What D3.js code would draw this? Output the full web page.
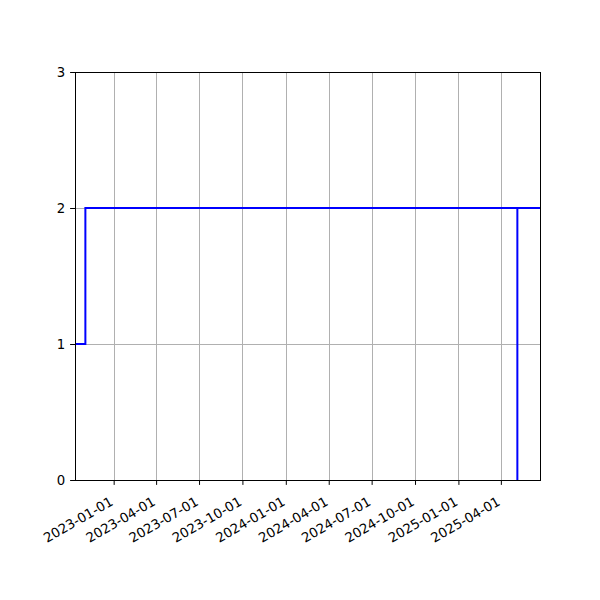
<!DOCTYPE html>
<html>
<head>
<meta charset="utf-8">
<script src="https://cdn.jsdelivr.net/npm/d3@7"></script>
<style>
  body { margin: 0; background: #fff; }
  text { font-family: "DejaVu Sans", sans-serif; }
</style>
</head>
<body>
<div id="chart"></div>
<script>
// step series (value holds until the next date)
const stepDates = ["2022-10-11", "2022-11-02", "2025-05-06", "2025-05-06", "2025-06-23"];
const stepValues = [1, 2, 0, 2, 2];
const xDomain = ["2022-10-11", "2025-06-23"];
const xTicks = ["2023-01-01", "2023-04-01", "2023-07-01", "2023-10-01", "2024-01-01",
                "2024-04-01", "2024-07-01", "2024-10-01", "2025-01-01", "2025-04-01"];
const yTicks = [0, 1, 2, 3];

const parse = d3.utcParse("%Y-%m-%d");
const data = stepDates.map((d, i) => ({ date: parse(d), value: stepValues[i] }));

const svg = d3.select("#chart")
              .append("svg")
              .attr("width", 600)
              .attr("height", 600);

const margin = { top: 72, right: 60, bottom: 120, left: 75 };
const width = 600 - margin.left - margin.right;
const height = 600 - margin.top - margin.bottom;

const g = svg.append("g")
             .attr("transform", `translate(${margin.left},${margin.top})`);

const x = d3.scaleUtc()
            .domain(xDomain.map(parse))
            .range([0, width]);

const y = d3.scaleLinear()
            .domain([0, 3])
            .range([height, 0]);

// grid
g.append("g")
 .selectAll("line")
 .data(xTicks.map(parse))
 .join("line")
 .attr("x1", d => Math.round(x(d)) + 0.5).attr("x2", d => Math.round(x(d)) + 0.5)
 .attr("y1", 0).attr("y2", height)
 .attr("stroke", "#b0b0b0")
 .attr("stroke-width", 1);

g.append("g")
 .selectAll("line")
 .data(yTicks)
 .join("line")
 .attr("x1", 0).attr("x2", width)
 .attr("y1", d => y(d) + 0.5).attr("y2", d => y(d) + 0.5)
 .attr("stroke", "#b0b0b0")
 .attr("stroke-width", 1);

// step line
g.append("path")
 .datum(data)
 .attr("fill", "none")
 .attr("stroke", "blue")
 .attr("stroke-width", 2)
 .attr("d", d3.line()
              .curve(d3.curveStepAfter)
              .x(d => x(d.date))
              .y(d => y(d.value)));

// axes
const xAxis = g.append("g")
 .attr("transform", `translate(0,${height})`)
 .call(d3.axisBottom(x)
         .tickValues(xTicks.map(parse))
         .tickFormat(d3.utcFormat("%Y-%m-%d"))
         .tickSize(4.9)
         .tickPadding(5));
xAxis.select(".domain").remove();
xAxis.selectAll("text")
 .attr("font-size", 13.3)
 .attr("fill", "#000")
 .attr("text-anchor", "end")
 .attr("dominant-baseline", "hanging")
 .attr("y", 0)
 .attr("dy", 0)
 .attr("transform", "translate(-5,16) rotate(-30)");

const yAxis = g.append("g")
 .call(d3.axisLeft(y)
         .tickValues(yTicks)
         .tickFormat(d3.format("d"))
         .tickSize(4.9)
         .tickPadding(4.9));
yAxis.select(".domain").remove();
yAxis.selectAll("text")
 .attr("font-size", 13.3)
 .attr("fill", "#000");

// frame
g.append("rect")
 .attr("x", 0.5)
 .attr("y", 0.5)
 .attr("width", width)
 .attr("height", height)
 .attr("fill", "none")
 .attr("stroke", "#000")
 .attr("stroke-width", 1);
</script>
</body>
</html>
